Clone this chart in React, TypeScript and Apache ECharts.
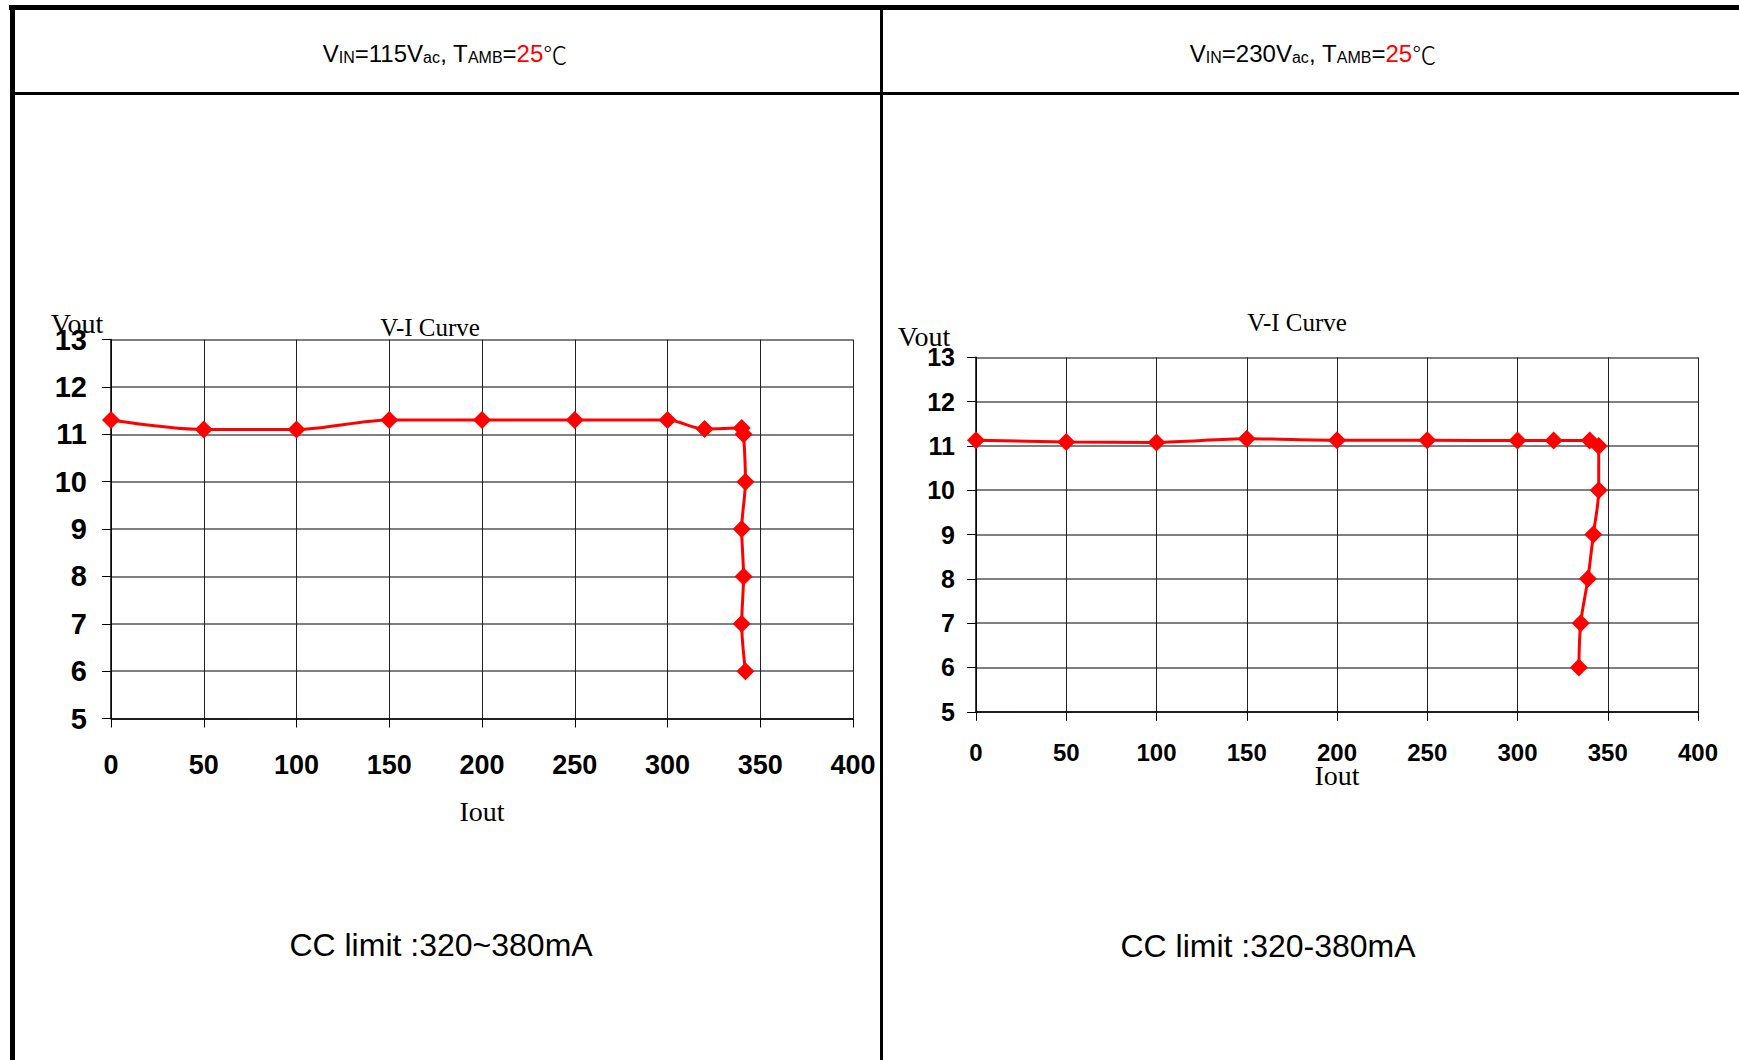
import React, { useEffect, useRef } from "react";
import * as echarts from "echarts";

// ---- data ----
const X_TICKS = [0, 50, 100, 150, 200, 250, 300, 350, 400];
const Y_TICKS = [5, 6, 7, 8, 9, 10, 11, 12, 13];

const LEFT_IOUT = [0, 50, 100, 150, 200, 250, 300, 320, 340, 341, 342, 340, 341, 340, 342];
const LEFT_VOUT = [11.3, 11.1, 11.1, 11.3, 11.3, 11.3, 11.3, 11.11, 11.13, 11.0, 10, 9, 8, 7, 6];

const RIGHT_IOUT = [0, 50, 100, 150, 200, 250, 300, 320, 340, 345, 345, 342, 339, 335, 334];
const RIGHT_VOUT = [11.13, 11.09, 11.08, 11.16, 11.13, 11.13, 11.12, 11.12, 11.12, 11.0, 10, 9, 8, 7, 6];

const HEADER_LEFT = { vin: "115", note: "CC limit :320~380mA" };
const HEADER_RIGHT = { vin: "230", note: "CC limit :320-380mA" };

const pairs = (xs: number[], ys: number[]) => xs.map((x, i) => [x, ys[i]]);

const SANS = '"Liberation Sans", Arial, sans-serif';
const SERIF = '"Liberation Serif", "DejaVu Serif", serif';

function headerText(vin: string) {
  return `{n|V}{s|IN}{n|=${vin}V}{s|ac}{n|, T}{s|AMB}{n|=}{r|25}{c|℃}`;
}
const headerRich = {
  n: { fontSize: 24, fontFamily: SANS, fill: "#000", color: "#000", verticalAlign: "bottom", lineHeight: 27 },
  s: { fontSize: 16, fontFamily: SANS, fill: "#000", color: "#000", verticalAlign: "bottom", lineHeight: 21 },
  r: { fontSize: 24, fontFamily: SANS, fill: "#ff0000", color: "#ff0000", verticalAlign: "bottom", lineHeight: 27 },
  c: { fontSize: 24, fontFamily: '"Noto Sans CJK SC", sans-serif', fontWeight: 300, fill: "#000", color: "#000", verticalAlign: "bottom", lineHeight: 28 },
};

function txt(text: string, x: number, y: number, fontSize: number, family: string, weight: string | number = "normal") {
  return {
    type: "text",
    x,
    y,
    silent: true,
    style: {
      text,
      fontSize,
      fontFamily: family,
      fontWeight: weight,
      fill: "#000",
      align: "center",
      verticalAlign: "middle",
      textAlign: "center",
      textVerticalAlign: "middle",
    },
  };
}

export default function App() {
  const ref = useRef<HTMLDivElement>(null);
  useEffect(() => {
    if (!ref.current) return;
    const chart = echarts.init(ref.current, null, { renderer: "svg" });

    const mkX = (gridIndex: number, fontSize: number, margin: number) => ({
      type: "value",
      gridIndex,
      min: X_TICKS[0],
      max: X_TICKS[X_TICKS.length - 1],
      interval: X_TICKS[1] - X_TICKS[0],
      axisLine: { show: true, onZero: false, lineStyle: { color: "#000", width: 1.5 } },
      axisTick: { show: true, length: 9, lineStyle: { color: "#000", width: 1 } },
      axisLabel: { fontSize, fontWeight: "bold", fontFamily: SANS, color: "#000", margin },
      splitLine: { show: true, lineStyle: { color: "#222", width: 1 } },
    });
    const mkY = (gridIndex: number, fontSize: number, margin: number) => ({
      type: "value",
      gridIndex,
      min: Y_TICKS[0],
      max: Y_TICKS[Y_TICKS.length - 1],
      interval: Y_TICKS[1] - Y_TICKS[0],
      axisLine: { show: true, onZero: false, lineStyle: { color: "#000", width: 1.5 } },
      axisTick: { show: true, length: 9, lineStyle: { color: "#000", width: 1 } },
      axisLabel: { fontSize, fontWeight: "bold", fontFamily: SANS, color: "#000", margin },
      splitLine: { show: true, lineStyle: { color: "#555", width: 1.5 } },
    });

    const series = (xi: number, data: number[][]) => ({
      type: "line",
      xAxisIndex: xi,
      yAxisIndex: xi,
      data,
      smooth: 0.3,
      symbol: "diamond",
      symbolSize: 18,
      lineStyle: { color: "#ff0000", width: 3 },
      itemStyle: { color: "#ff0000" },
    });

    chart.setOption({
      animation: false,
      backgroundColor: "#fff",
      grid: [
        { left: 111, top: 339.5, width: 742, height: 379, containLabel: false },
        { left: 976, top: 357.3, width: 722, height: 354.5, containLabel: false },
      ],
      xAxis: [mkX(0, 27, 33), mkX(1, 24, 29)],
      yAxis: [mkY(0, 29, 24), mkY(1, 25, 21)],
      series: [series(0, pairs(LEFT_IOUT, LEFT_VOUT)), series(1, pairs(RIGHT_IOUT, RIGHT_VOUT))],
      graphic: [
        // table borders
        { type: "line", silent: true, shape: { x1: 9, y1: 7.5, x2: 1739, y2: 7.5 }, style: { stroke: "#000", lineWidth: 5 } },
        { type: "line", silent: true, shape: { x1: 12.5, y1: 5, x2: 12.5, y2: 1060 }, style: { stroke: "#000", lineWidth: 5 } },
        { type: "line", silent: true, shape: { x1: 881.5, y1: 7, x2: 881.5, y2: 1060 }, style: { stroke: "#000", lineWidth: 3 } },
        { type: "line", silent: true, shape: { x1: 12, y1: 93.5, x2: 1739, y2: 93.5 }, style: { stroke: "#000", lineWidth: 3 } },
        // headers
        {
          type: "text", x: 445, y: 51, silent: true,
          style: { text: headerText(HEADER_LEFT.vin), rich: headerRich, align: "center", verticalAlign: "middle", textAlign: "center", textVerticalAlign: "middle" },
        },
        {
          type: "text", x: 1313, y: 51, silent: true,
          style: { text: headerText(HEADER_RIGHT.vin), rich: headerRich, align: "center", verticalAlign: "middle", textAlign: "center", textVerticalAlign: "middle" },
        },
        // chart titles and axis names
        txt("V-I Curve", 430, 327, 25, SERIF),
        txt("V-I Curve", 1297, 322, 25, SERIF),
        txt("Vout", 77, 323, 28, SERIF),
        txt("Vout", 924, 336, 28, SERIF),
        txt("Iout", 482, 811, 28, SERIF),
        txt("Iout", 1337, 775, 28, SERIF),
        // notes
        txt(HEADER_LEFT.note, 441, 945, 32, SANS),
        txt(HEADER_RIGHT.note, 1268, 946, 32, SANS),
      ],
    });
    return () => chart.dispose();
  }, []);
  return (
    <div
      ref={ref}
      style={{ position: "fixed", left: 0, top: 0, width: 1739, height: 1060, background: "#fff" }}
    />
  );
}
